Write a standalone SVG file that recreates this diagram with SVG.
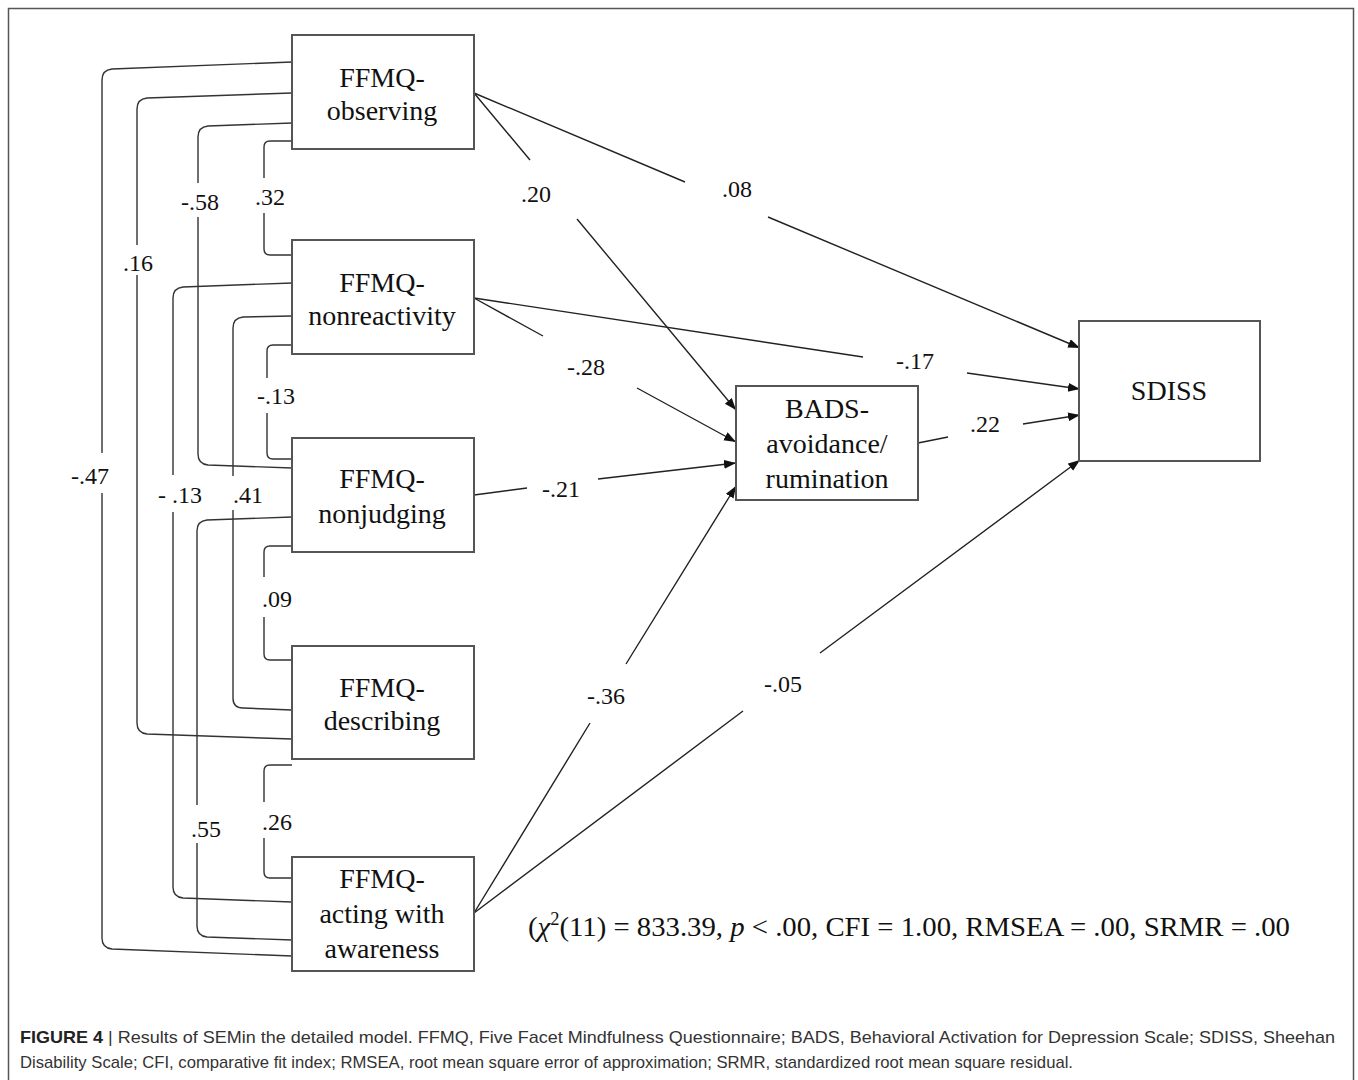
<svg xmlns="http://www.w3.org/2000/svg" width="1358" height="1080" viewBox="0 0 1358 1080">
  <style>
    .frame { fill: none; stroke: #555; stroke-width: 1.5; }
    .box { fill: #fff; stroke: #555; stroke-width: 2; }
    .node { font-family: "Liberation Serif", "Times New Roman", serif; font-size: 28px; fill: #111; text-anchor: middle; }
    .lbl { font-family: "Liberation Serif", "Times New Roman", serif; font-size: 24px; fill: #111; text-anchor: middle; }
    .corr { fill: none; stroke: #333; stroke-width: 1.4; }
    .path { fill: none; stroke: #222; stroke-width: 1.4; }
    .fit { font-family: "Liberation Serif", "Times New Roman", serif; font-size: 28px; fill: #111; }
    .cap { font-family: "Liberation Sans", Arial, sans-serif; font-size: 17px; fill: #333; }
  </style>
  <defs>
    <marker id="arrow" markerUnits="userSpaceOnUse" markerWidth="13" markerHeight="10" refX="12" refY="4.5" orient="auto">
      <path d="M0,0 L12,4.5 L0,9 z" fill="#111"/>
    </marker>
  </defs>

  <rect width="1358" height="1080" fill="#fff"/>
  <rect class="frame" x="8.5" y="8.5" width="1345" height="1100"/>

  <!-- connectors: correlations (left) and regression paths -->
  <g id="connectors">
    <path class="corr" d="M292,62 L112,69 Q102,70 102,80 L102,453 M102,493 L102,938 Q102,948 112,949 L292,956"/>
    <path class="corr" d="M292,93 L147,98 Q137,99 137,109 L137,245 M137,275 L137,723 Q137,733 147,734 L292,739"/>
    <path class="corr" d="M292,123 L208,126 Q198,127 198,137 L198,183 M198,217 L198,454 Q198,464 208,465 L292,468"/>
    <path class="corr" d="M292,141 L270,141 Q264,141 264,147 L264,178 M264,213 L264,249 Q264,255 270,255 L292,255"/>
    <path class="corr" d="M292,283 L183,287 Q173,288 173,298 L173,475 M173,512 L173,887 Q173,897 183,898 L292,902"/>
    <path class="corr" d="M292,316 L243,317 Q233,318 233,328 L233,476 M233,510 L233,698 Q233,708 243,708 L292,710"/>
    <path class="corr" d="M292,345 L273,345 Q267,345 267,351 L267,378 M267,413 L267,453 Q267,459 273,459 L292,459"/>
    <path class="corr" d="M292,517 L207,520 Q197,521 197,531 L197,805 M197,843 L197,926 Q197,936 207,937 L292,940"/>
    <path class="corr" d="M292,546 L270,546 Q264,546 264,552 L264,577 M264,617 L264,654 Q264,660 270,660 L292,660"/>
    <path class="corr" d="M292,765 L270,765 Q264,765 264,771 L264,802 M264,838 L264,872 Q264,878 270,878 L292,878"/>

    <path class="path" marker-end="url(#arrow)" d="M474,93 L530,160 M577,219 L736,410"/>
    <path class="path" marker-end="url(#arrow)" d="M474,93 L685,182 M768,217 L1080,348"/>
    <path class="path" marker-end="url(#arrow)" d="M474,298 L543,336 M637,388 L736,442"/>
    <path class="path" marker-end="url(#arrow)" d="M474,298 L863,357 M967,373 L1080,389"/>
    <path class="path" marker-end="url(#arrow)" d="M474,495 L527,488 M598,479 L736,463"/>
    <path class="path" marker-end="url(#arrow)" d="M918,443 L948,437 M1023,424 L1080,415"/>
    <path class="path" marker-end="url(#arrow)" d="M474,913 L590,723 M626,664 L736,486"/>
    <path class="path" marker-end="url(#arrow)" d="M474,913 L743,711 M820,653 L1080,460"/>
  </g>

  <g id="connector-labels">
    <text class="lbl" x="90" y="484">-.47</text>
    <text class="lbl" x="138" y="271">.16</text>
    <text class="lbl" x="200" y="210">-.58</text>
    <text class="lbl" x="270" y="205">.32</text>
    <text class="lbl" x="180" y="503">- .13</text>
    <text class="lbl" x="248" y="503">.41</text>
    <text class="lbl" x="276" y="404">-.13</text>
    <text class="lbl" x="206" y="837">.55</text>
    <text class="lbl" x="277" y="607">.09</text>
    <text class="lbl" x="277" y="830">.26</text>
    <text class="lbl" x="536" y="202">.20</text>
    <text class="lbl" x="737" y="197">.08</text>
    <text class="lbl" x="586" y="375">-.28</text>
    <text class="lbl" x="915" y="369">-.17</text>
    <text class="lbl" x="561" y="497">-.21</text>
    <text class="lbl" x="985" y="432">.22</text>
    <text class="lbl" x="606" y="704">-.36</text>
    <text class="lbl" x="783" y="692">-.05</text>
  </g>

  <g id="ffmq-observing">
    <rect class="box" x="292" y="35" width="182" height="114"/>
    <text class="node" x="382" y="87">FFMQ-</text>
    <text class="node" x="382" y="120">observing</text>
  </g>
  <g id="ffmq-nonreactivity">
    <rect class="box" x="292" y="240" width="182" height="114"/>
    <text class="node" x="382" y="292">FFMQ-</text>
    <text class="node" x="382" y="325">nonreactivity</text>
  </g>
  <g id="ffmq-nonjudging">
    <rect class="box" x="292" y="438" width="182" height="114"/>
    <text class="node" x="382" y="488">FFMQ-</text>
    <text class="node" x="382" y="523">nonjudging</text>
  </g>
  <g id="ffmq-describing">
    <rect class="box" x="292" y="646" width="182" height="113"/>
    <text class="node" x="382" y="697">FFMQ-</text>
    <text class="node" x="382" y="730">describing</text>
  </g>
  <g id="ffmq-acting">
    <rect class="box" x="292" y="857" width="182" height="114"/>
    <text class="node" x="382" y="888">FFMQ-</text>
    <text class="node" x="382" y="923">acting with</text>
    <text class="node" x="382" y="958">awareness</text>
  </g>
  <g id="bads">
    <rect class="box" x="736" y="386" width="182" height="114"/>
    <text class="node" x="827" y="418">BADS-</text>
    <text class="node" x="827" y="453">avoidance/</text>
    <text class="node" x="827" y="488">rumination</text>
  </g>
  <g id="sdiss">
    <rect class="box" x="1079" y="321" width="181" height="140"/>
    <text class="node" x="1169" y="400">SDISS</text>
  </g>

  <g id="fit-indices">
    <text class="fit" x="528" y="936" textLength="762" lengthAdjust="spacingAndGlyphs">(<tspan font-style="italic">χ</tspan><tspan font-size="18" dy="-11">2</tspan><tspan dy="11">(11) = 833.39, </tspan><tspan font-style="italic">p</tspan> &lt; .00, CFI = 1.00, RMSEA = .00, SRMR = .00</text>
  </g>

  <g id="caption">
    <text class="cap" x="20" y="1043" textLength="1315" lengthAdjust="spacingAndGlyphs"><tspan font-weight="bold" fill="#222">FIGURE 4</tspan> | Results of SEMin the detailed model. FFMQ, Five Facet Mindfulness Questionnaire; BADS, Behavioral Activation for Depression Scale; SDISS, Sheehan</text>
    <text class="cap" x="20" y="1068" textLength="1053" lengthAdjust="spacingAndGlyphs">Disability Scale; CFI, comparative fit index; RMSEA, root mean square error of approximation; SRMR, standardized root mean square residual.</text>
  </g>
</svg>
